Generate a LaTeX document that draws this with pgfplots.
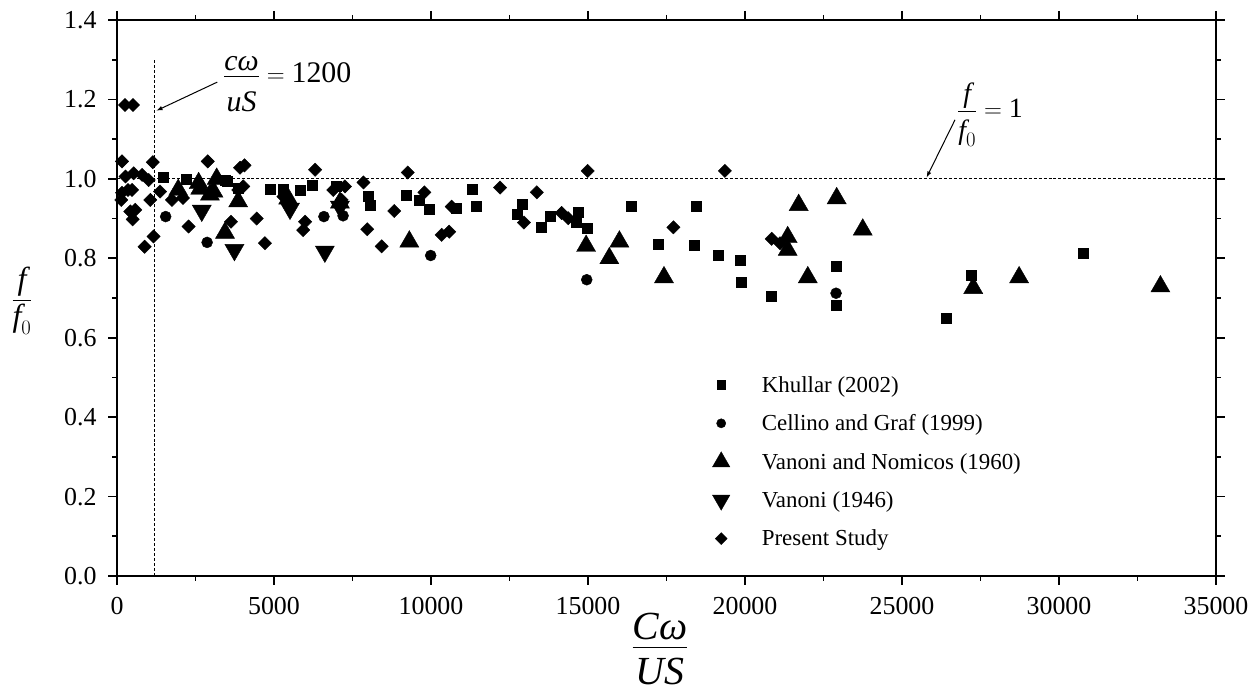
\documentclass[border=0pt]{standalone}
\usepackage{amsmath}
\usepackage{fontspec}
\setmainfont{Liberation Serif}
\usepackage{pgfplots}
\pgfplotsset{compat=1.18}
\begin{document}
\begin{tikzpicture}
\useasboundingbox (0,0) rectangle (1259bp,693bp);
\begin{axis}[
  at={(117bp,117bp)}, anchor=south west,
  scale only axis, width=1099bp, height=556bp,
  xmin=0, xmax=35000, ymin=0, ymax=1.4,
  xtick={0,5000,...,35000}, ytick={0,0.2,...,1.4},
  scaled x ticks=false,
  minor x tick num=1, minor y tick num=1,
  tick align=outside,
  major tick length=9bp, minor tick length=5bp,
  axis line style={line width=2.2bp},
  every tick/.style={line width=1.8bp, black},
  /pgf/number format/assume math mode=true,
  x tick label style={/pgf/number format/1000 sep={}, font=\fontsize{26}{26}\selectfont, yshift=-9bp},
  y tick label style={/pgf/number format/.cd, fixed, fixed zerofill, precision=1, /tikz/.cd, font=\fontsize{26}{26}\selectfont, xshift=-8bp},
  xlabel={$\dfrac{\raisebox{-2bp}[0pt][0pt]{\itshape Cω}}{\raisebox{-14bp}[0pt][0pt]{\itshape US}}$},
  x label style={at={(rel axis cs:0.494,-0.140)}, anchor=base, font=\fontsize{40}{40}\selectfont},
  ylabel={$\dfrac{\mbox{\itshape f}}{\mbox{\itshape f}_{0}}$},
  y label style={at={(rel axis cs:-0.0864,0.495)}, rotate=-90, anchor=center, font=\fontsize{32}{32}\selectfont},
  legend style={at={(rel axis cs:0.539,0.367)}, anchor=north west, draw=none, fill=none,
    font=\fontsize{23}{23}\selectfont, row sep=17bp, cells={anchor=west}},
  legend cell align=left,
  clip=false,
]
\draw[densely dashed, line width=0.8bp] (axis cs:0,1) -- (axis cs:35000,1);
\draw[densely dashed, line width=0.8bp] (axis cs:1200,0) -- (axis cs:1200,1.30);

\addlegendimage{only marks, mark=square*, mark size=4.3bp, black}
\addlegendentry{\hspace{30bp}Khullar (2002)}
\addlegendimage{only marks, mark=*, mark size=4.6bp, black}
\addlegendentry{\hspace{30bp}Cellino and Graf (1999)}
\addlegendimage{only marks, mark=triangle*, mark size=10bp, black}
\addlegendentry{\hspace{30bp}Vanoni and Nomicos (1960)}
\addlegendimage{only marks, mark=triangle*, mark size=10bp, mark options={rotate=180}, black}
\addlegendentry{\hspace{30bp}Vanoni (1946)}
\addlegendimage{only marks, mark=square*, mark size=4.2bp, mark options={rotate=45}, black}
\addlegendentry{\hspace{30bp}Present Study}

\addplot[forget plot, only marks, mark=square*, mark size=5bp, black] coordinates {
(1480,1.005)(2190,1.000)(3440,0.997)(3500,0.993)(3860,0.976)(4870,0.975)(5300,0.975)
(5830,0.971)(6220,0.984)(6980,0.981)(8000,0.957)(8060,0.934)(9200,0.960)(9630,0.946)
(9950,0.924)(10800,0.926)(11300,0.975)(11430,0.931)(12890,0.937)(12730,0.911)
(13810,0.907)(13525,0.878)(14690,0.915)(14640,0.890)(14990,0.877)(16370,0.930)
(17240,0.835)(18460,0.930)(18380,0.832)(19150,0.809)(19840,0.794)(19870,0.740)
(20820,0.705)(22920,0.781)(22890,0.681)(26420,0.648)(27210,0.757)(30770,0.813)
};

\addplot[forget plot, only marks, mark=*, mark size=5.5bp, black] coordinates {
(1550,0.905)(2870,0.840)(6590,0.905)(7200,0.907)(9990,0.807)(14960,0.746)(22900,0.712)
};

\addplot[forget plot, only marks, mark=triangle*, mark size=11bp, black] coordinates {
(1950,0.972)(2600,0.989)(2650,0.975)(3070,0.968)(2960,0.960)(3175,1.000)(3440,0.864)
(3860,0.943)(5450,0.950)(7100,0.940)(9310,0.842)(14940,0.831)(16000,0.842)(15680,0.800)
(17420,0.752)(21710,0.934)(22920,0.951)(23750,0.872)(21360,0.853)(21360,0.821)
(22000,0.752)(27270,0.725)(28730,0.752)(33230,0.729)
};

\addplot[forget plot, only marks, mark=triangle*, mark size=11bp, mark options={rotate=180}, black] coordinates {
(2700,0.920)(3740,0.821)(5510,0.925)(6620,0.817)(7100,0.930)
};

\addplot[forget plot, only marks, mark=square*, mark size=4.7bp, mark options={rotate=45}, black] coordinates {
(159,1.044)(1140,1.042)(2890,1.044)(3920,1.028)(4060,1.034)(6310,1.023)(255,1.186)(510,1.186)
(270,1.006)(530,1.014)(800,1.010)(1010,0.997)(350,0.972)(137,0.947)(160,0.965)(480,0.972)
(1060,0.947)(583,0.922)(424,0.918)(500,0.898)(1165,0.855)(880,0.829)(1750,0.947)
(2100,0.952)(2280,0.880)(1370,0.968)(4020,0.981)(3863,0.972)(4450,0.900)(4710,0.838)
(3630,0.892)(5990,0.892)(5930,0.871)(6890,0.972)(7260,0.981)(7155,0.947)(7850,0.991)
(7970,0.873)(8430,0.830)(8830,0.919)(9260,1.016)(9790,0.966)(10340,0.859)(10580,0.867)
(10660,0.930)(12200,0.978)(13370,0.966)(12960,0.890)(14160,0.914)(14370,0.901)
(14990,1.020)(17720,0.878)(19360,1.020)(20850,0.849)(21115,0.838)(5300,0.955)
};

\draw[-latex, line width=1bp] (axis cs:3194,1.2436) -- (axis cs:1264,1.172);
\node[anchor=base west, font=\fontsize{30}{30}\selectfont, inner sep=0pt] at (axis cs:3376,1.242)
  {$\dfrac{\raisebox{-5bp}[0pt][0pt]{\itshape cω}}{\raisebox{-12bp}[0pt][0pt]{\itshape uS}}=\mbox{1200}$};
\draw[-latex, line width=1bp] (axis cs:26688,1.1486) -- (axis cs:25787,1.004);
\node[anchor=base west, font=\fontsize{28}{28}\selectfont, inner sep=0pt] at (axis cs:26752,1.1537)
  {$\dfrac{\raisebox{-7bp}[0pt][0pt]{\itshape f}}{\raisebox{-5bp}[0pt][0pt]{$\mbox{\itshape f}_{0}$}}=\mbox{1}$};
\end{axis}
\end{tikzpicture}
\end{document}
